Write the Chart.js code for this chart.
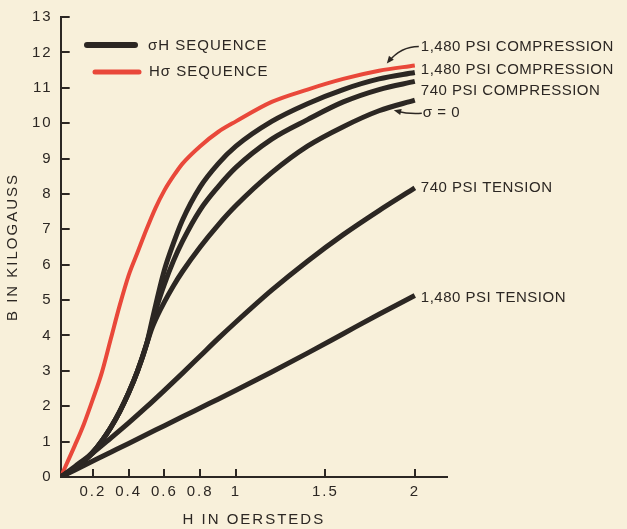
<!DOCTYPE html>
<html>
<head>
<meta charset="utf-8">
<script src="https://cdn.jsdelivr.net/npm/chart.js@4.4.0/dist/chart.umd.min.js"></script>
<style>
html, body { margin: 0; padding: 0; background: #f8f0da; }
#wrap { width: 627px; height: 529px; }
</style>
</head>
<body>
<div id="wrap"><canvas id="chart"></canvas></div>
<script>
'use strict';

// H in oersteds, B in kilogauss
let hRed = [0.02, 0.1, 0.15, 0.2, 0.25, 0.3, 0.35, 0.4, 0.45, 0.5, 0.55, 0.6, 0.65, 0.7, 0.8, 0.9, 1.0, 1.2, 1.4, 1.6, 1.8, 2.0];
let bRed = [0, 0.9, 1.5, 2.2, 2.95, 3.9, 4.85, 5.7, 6.35, 7.0, 7.6, 8.1, 8.5, 8.85, 9.35, 9.75, 10.05, 10.6, 10.95, 11.25, 11.48, 11.63];

// the three upper sigma-H curves share one path up to about H = 0.5
let hUpper = [0.02, 0.1, 0.15, 0.2, 0.25, 0.3, 0.35, 0.4, 0.45, 0.5, 0.53, 0.56, 0.6, 0.65, 0.7, 0.8, 0.9, 1.0, 1.2, 1.4, 1.6, 1.8, 2.0];
let bComp1480 = [0, 0.25, 0.45, 0.7, 1.02, 1.4, 1.85, 2.38, 3.0, 3.75, 4.4, 5.05, 5.85, 6.6, 7.25, 8.2, 8.85, 9.35, 10.05, 10.55, 10.95, 11.25, 11.43];
let bComp740 = [0, 0.25, 0.45, 0.7, 1.02, 1.4, 1.85, 2.38, 3.0, 3.75, 4.3, 4.85, 5.45, 6.1, 6.65, 7.55, 8.2, 8.75, 9.55, 10.1, 10.6, 10.95, 11.18];
let bZero = [0, 0.25, 0.45, 0.7, 1.02, 1.4, 1.85, 2.38, 3.0, 3.75, 4.2, 4.55, 4.95, 5.4, 5.8, 6.5, 7.12, 7.67, 8.6, 9.35, 9.9, 10.35, 10.65];

let hTension = [0.02, 0.1, 0.2, 0.3, 0.4, 0.5, 0.6, 0.7, 0.8, 0.9, 1.0, 1.2, 1.4, 1.6, 1.8, 2.0];
let bTens740 = [0, 0.3, 0.68, 1.1, 1.53, 1.98, 2.45, 2.93, 3.42, 3.91, 4.38, 5.28, 6.1, 6.85, 7.53, 8.17];
let bTens1480 = [0, 0.2, 0.45, 0.7, 0.95, 1.2, 1.45, 1.7, 1.95, 2.2, 2.45, 2.97, 3.5, 4.05, 4.6, 5.13];

let xTicks = [0.2, 0.4, 0.6, 0.8, 1, 1.5, 2];
let yTicks = [0, 1, 2, 3, 4, 5, 6, 7, 8, 9, 10, 11, 12, 13];

let curveNames = ['1,480 PSI COMPRESSION', '1,480 PSI COMPRESSION', '740 PSI COMPRESSION', '\u03c3 = 0', '740 PSI TENSION', '1,480 PSI TENSION'];
let legendNames = ['\u03c3H SEQUENCE', 'H\u03c3 SEQUENCE'];

let ink = '#2c2723';
let red = '#e9483a';
let font = '"Liberation Sans", Arial, sans-serif';

function pts(hs, bs) {
    let out = [];
    for (let i = 0; i < hs.length; i++) {
        out.push({x: hs[i], y: bs[i]});
    }
    return out;
}

function curve(name, hs, bs, color, width) {
    return {
        label: name,
        data: pts(hs, bs),
        borderColor: color,
        borderWidth: width,
        pointRadius: 0,
        cubicInterpolationMode: 'monotone',
        borderCapStyle: 'butt',
        fill: false
    };
}

let datasets = [
    curve(curveNames[1], hUpper, bComp1480, ink, 5),
    curve(curveNames[2], hUpper, bComp740, ink, 5),
    curve(curveNames[3], hUpper, bZero, ink, 5),
    curve(curveNames[4], hTension, bTens740, ink, 5),
    curve(curveNames[5], hTension, bTens1480, ink, 5),
    curve(curveNames[0], hRed, bRed, red, 4)
];

// label y offsets (px) from the end of each curve, same order as curveNames
let labelDy = [-19, -3, 9, 13, 0, 2];
let labelEnds = [bRed, bComp1480, bComp740, bZero, bTens740, bTens1480];

function arrowHead(ctx, x, y, angle) {
    ctx.beginPath();
    ctx.moveTo(x, y);
    ctx.lineTo(x - 8 * Math.cos(angle - 0.4), y - 8 * Math.sin(angle - 0.4));
    ctx.lineTo(x - 8 * Math.cos(angle + 0.4), y - 8 * Math.sin(angle + 0.4));
    ctx.closePath();
    ctx.fill();
}

let paperBits = {
    id: 'paperBits',
    beforeUpdate(chart) {
        chart.ctx.letterSpacing = '2px';
    },
    beforeDraw(chart) {
        chart.ctx.letterSpacing = '2px';
    },
    afterDraw(chart) {
        let ctx = chart.ctx;
        let xs = chart.scales.x;
        let ys = chart.scales.y;
        let area = chart.chartArea;
        ctx.save();
        ctx.strokeStyle = ink;
        ctx.fillStyle = ink;
        ctx.lineWidth = 2;

        // tick marks point inward on this figure
        for (let v of xTicks) {
            let px = Math.round(xs.getPixelForValue(v));
            ctx.beginPath();
            ctx.moveTo(px, area.bottom);
            ctx.lineTo(px, area.bottom - 8);
            ctx.stroke();
        }
        for (let v of yTicks) {
            let py = Math.round(ys.getPixelForValue(v));
            ctx.beginPath();
            ctx.moveTo(area.left, py);
            ctx.lineTo(area.left + 9, py);
            ctx.stroke();
        }

        // legend
        ctx.font = '15px ' + font;
        ctx.letterSpacing = '1px';
        ctx.textBaseline = 'middle';
        ctx.textAlign = 'left';
        ctx.lineCap = 'round';
        ctx.lineWidth = 6;
        ctx.strokeStyle = ink;
        ctx.beginPath();
        ctx.moveTo(87, 45);
        ctx.lineTo(135, 45);
        ctx.stroke();
        ctx.fillText(legendNames[0], 148, 46);
        ctx.strokeStyle = red;
        ctx.lineWidth = 5;
        ctx.beginPath();
        ctx.moveTo(95, 72);
        ctx.lineTo(139, 72);
        ctx.stroke();
        ctx.fillText(legendNames[1], 149, 72);

        // curve labels at the right ends
        ctx.letterSpacing = '0.5px';
        let endX = xs.getPixelForValue(2);
        let lx = endX + 6;
        for (let i = 0; i < curveNames.length; i++) {
            let arr = labelEnds[i];
            let py = ys.getPixelForValue(arr[arr.length - 1]) + labelDy[i];
            ctx.fillText(curveNames[i], i === 3 ? lx + 2 : lx, py);
        }

        // arrows
        ctx.lineWidth = 1.5;
        ctx.lineCap = 'butt';
        ctx.strokeStyle = ink;
        let ry = ys.getPixelForValue(bRed[bRed.length - 1]) + labelDy[0];
        ctx.beginPath();
        ctx.moveTo(lx - 2, ry);
        ctx.quadraticCurveTo(lx - 20, ry, lx - 32, ry + 15);
        ctx.stroke();
        arrowHead(ctx, lx - 34, ry + 17, Math.atan2(15, -12));

        let zy = ys.getPixelForValue(bZero[bZero.length - 1]) + labelDy[3];
        ctx.beginPath();
        ctx.moveTo(lx + 1, zy);
        ctx.quadraticCurveTo(lx - 12, zy + 1, lx - 24, zy - 2);
        ctx.stroke();
        arrowHead(ctx, lx - 27, zy - 3, Math.atan2(-3, -12));
        ctx.restore();
    }
};

let ctx = document.getElementById('chart').getContext('2d');

let chart = new Chart(ctx, {
    type: 'line',
    data: {datasets: datasets},
    plugins: [paperBits],
    options: {
        responsive: true,
        maintainAspectRatio: false,
        animation: false,
        layout: {padding: {top: 16, right: 180, bottom: 0, left: 2}},
        plugins: {
            legend: {display: false},
            tooltip: {enabled: false}
        },
        scales: {
            x: {
                type: 'linear',
                min: 0.02,
                max: 2.18,
                afterBuildTicks: (axis) => { axis.ticks = xTicks.map(v => ({value: v})); },
                grid: {display: false, drawTicks: false},
                border: {display: true, color: ink, width: 2},
                ticks: {color: ink, font: {family: font, size: 15}, padding: 6, callback: v => String(v)},
                title: {display: true, text: 'H IN OERSTEDS', color: ink, font: {family: font, size: 15}, padding: {top: 4, bottom: 0}}
            },
            y: {
                min: 0,
                max: 13,
                afterBuildTicks: (axis) => { axis.ticks = yTicks.map(v => ({value: v})); },
                grid: {display: false, drawTicks: false},
                border: {display: true, color: ink, width: 2},
                ticks: {color: ink, font: {family: font, size: 15}, padding: 8},
                title: {display: true, text: 'B IN KILOGAUSS', color: ink, font: {family: font, size: 15}, padding: {top: 2, bottom: 2}}
            }
        }
    }
});
</script>
</body>
</html>
